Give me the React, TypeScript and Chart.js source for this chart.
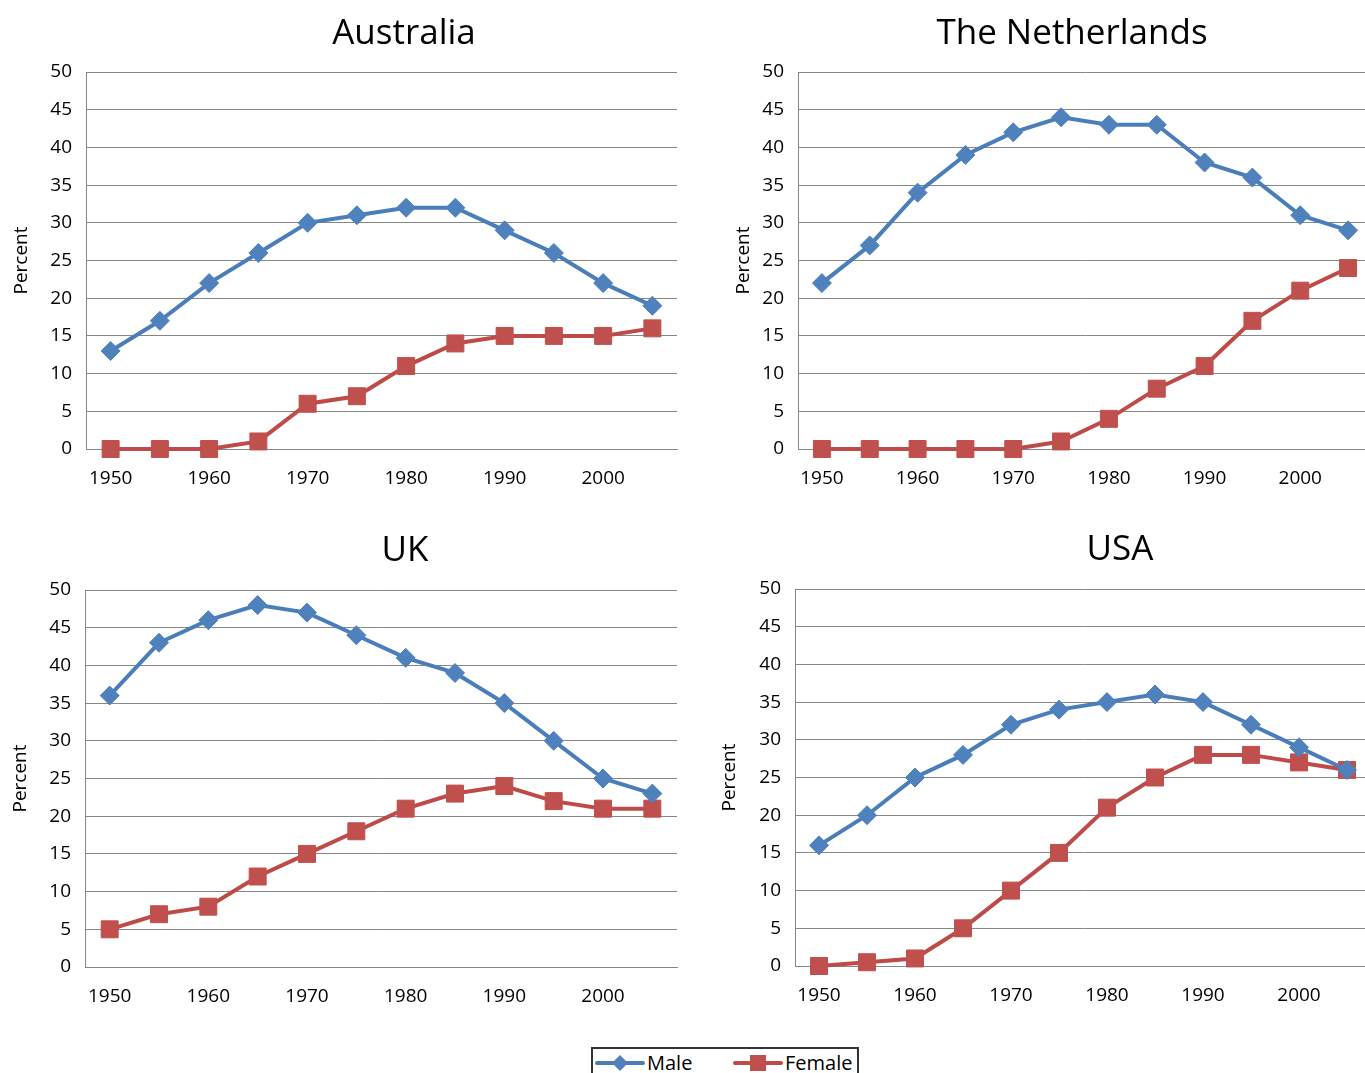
import React, { useEffect, useRef } from 'react';
import { Chart, registerables } from 'chart.js';

Chart.register(...registerables);

// ---------- data ----------
const years = ['1950', '1955', '1960', '1965', '1970', '1975', '1980', '1985', '1990', '1995', '2000', '2005'];
const xTickLabels = ['1950', '', '1960', '', '1970', '', '1980', '', '1990', '', '2000', ''];
const yMin = 0;
const yMax = 50;
const yStep = 5;
const seriesNames = ['Male', 'Female'];
const axisTitle = 'Percent';

const australiaMale = [13, 17, 22, 26, 30, 31, 32, 32, 29, 26, 22, 19];
const australiaFemale = [0, 0, 0, 1, 6, 7, 11, 14, 15, 15, 15, 16];
const netherlandsMale = [22, 27, 34, 39, 42, 44, 43, 43, 38, 36, 31, 29];
const netherlandsFemale = [0, 0, 0, 0, 0, 1, 4, 8, 11, 17, 21, 24];
const ukMale = [36, 43, 46, 48, 47, 44, 41, 39, 35, 30, 25, 23];
const ukFemale = [5, 7, 8, 12, 15, 18, 21, 23, 24, 22, 21, 21];
const usaMale = [16, 20, 25, 28, 32, 34, 35, 36, 35, 32, 29, 26];
const usaFemale = [0, 0.5, 1, 5, 10, 15, 21, 25, 28, 28, 27, 26];

// ---------- styles ----------
const FONT = "'Open Sans', sans-serif";
const TITLE_SIZE = 35;
const TICK_SIZE = 19;
const AXIS_TITLE_SIZE = 19;
const BLUE_LINE = '#4A7EBB';
const BLUE_MARK = '#4F81BD';
const RED_LINE = '#BE4B48';
const RED_MARK = '#C0504D';
const GRID = '#878787';
const X_AXIS_H = 44;

type PanelLayout = {
  left: number; top: number; width: number; height: number;
  plotL: number; plotR: number; plotT: number; plotB: number;
  titleX: number; titleY: number; percentX: number;
};

const panels: { title: string; male: number[]; female: number[]; layout: PanelLayout }[] = [
  {
    title: 'Australia', male: australiaMale, female: australiaFemale,
    layout: { left: 0, top: 0, width: 700, height: 510, plotL: 86, plotR: 677, plotT: 72, plotB: 449, titleX: 404, titleY: 34, percentX: 22 },
  },
  {
    title: 'The Netherlands', male: netherlandsMale, female: netherlandsFemale,
    layout: { left: 700, top: 0, width: 700, height: 510, plotL: 798, plotR: 1372, plotT: 72, plotB: 449, titleX: 1072, titleY: 34, percentX: 744 },
  },
  {
    title: 'UK', male: ukMale, female: ukFemale,
    layout: { left: 0, top: 510, width: 700, height: 530, plotL: 85, plotR: 677, plotT: 590, plotB: 967, titleX: 405, titleY: 551, percentX: 21 },
  },
  {
    title: 'USA', male: usaMale, female: usaFemale,
    layout: { left: 700, top: 510, width: 700, height: 530, plotL: 795, plotR: 1371, plotT: 589, plotB: 966, titleX: 1120, titleY: 550, percentX: 730 },
  },
];

const titleShift = {
  id: 'titleShift',
  afterLayout(chart: any, _args: any, opts: any) {
    const tb = chart.titleBlock;
    if (tb && opts && typeof opts.center === 'number') {
      const half = 320;
      tb.left = opts.center - half;
      tb.right = opts.center + half;
      tb.width = half * 2;
    }
  },
};

function Panel({ title, male, female, layout }: { title: string; male: number[]; female: number[]; layout: PanelLayout }) {
  const ref = useRef<HTMLCanvasElement>(null);
  useEffect(() => {
    const p = layout;
    const lh = TITLE_SIZE * 1.2;
    const padTop = p.titleY - p.top - lh / 2;
    const padBottom = p.plotT - p.top - padTop - lh;
    const axLh = AXIS_TITLE_SIZE * 1.2;
    const chart = new Chart(ref.current as HTMLCanvasElement, {
      type: 'line',
      data: {
        labels: years,
        datasets: [
          {
            label: seriesNames[0], data: male,
            borderColor: BLUE_LINE, backgroundColor: BLUE_MARK, borderWidth: 4,
            pointStyle: 'rectRot', pointRadius: 9.5, pointHoverRadius: 9.5,
            pointBackgroundColor: BLUE_MARK, pointBorderColor: BLUE_MARK, pointBorderWidth: 1,
            tension: 0, clip: false as any,
          },
          {
            label: seriesNames[1], data: female,
            borderColor: RED_LINE, backgroundColor: RED_MARK, borderWidth: 4,
            pointStyle: 'rect', pointRadius: 12, pointHoverRadius: 12,
            pointBackgroundColor: RED_MARK, pointBorderColor: RED_MARK, pointBorderWidth: 1,
            tension: 0, clip: false as any,
          },
        ],
      },
      options: {
        responsive: false,
        animation: false,
        devicePixelRatio: 1,
        events: [],
        layout: {
          padding: {
            left: 0,
            top: 0,
            right: p.left + p.width - p.plotR,
            bottom: p.top + p.height - p.plotB - X_AXIS_H,
          },
        },
        plugins: {
          legend: { display: false },
          tooltip: { enabled: false },
          title: {
            display: true,
            text: title,
            color: '#000',
            font: { family: FONT, size: TITLE_SIZE, weight: 'normal' as any, lineHeight: 1.2 },
            padding: { top: padTop, bottom: padBottom },
          },
          titleShift: { center: p.titleX - p.left },
        } as any,
        scales: {
          x: {
            type: 'category',
            offset: true,
            grid: { display: false, drawTicks: false },
            border: { display: true, color: GRID, width: 1 },
            ticks: {
              autoSkip: false, maxRotation: 0, minRotation: 0, padding: 18,
              color: '#000', font: { family: FONT, size: TICK_SIZE },
              callback: (_v: any, i: number) => xTickLabels[i],
            },
            afterFit: (s: any) => { s.height = X_AXIS_H; },
          },
          y: {
            min: yMin, max: yMax,
            ticks: { stepSize: yStep, padding: 14, color: '#000', font: { family: FONT, size: TICK_SIZE } },
            grid: { color: GRID, lineWidth: 1, drawTicks: false },
            border: { display: true, color: GRID, width: 1 },
            title: {
              display: true, text: axisTitle, color: '#000',
              font: { family: FONT, size: AXIS_TITLE_SIZE, lineHeight: 1.2 },
              padding: { top: p.percentX - p.left - axLh / 2, bottom: 0 },
            },
            afterFit: (s: any) => { s.width = p.plotL - p.left; },
          },
        },
      },
      plugins: [titleShift as any],
    });
    return () => chart.destroy();
  }, []);
  const p = layout;
  return (
    <canvas
      ref={ref}
      width={p.width}
      height={p.height}
      style={{ position: 'absolute', left: p.left, top: p.top, width: p.width, height: p.height }}
    />
  );
}

function Legend() {
  const textStyle: React.CSSProperties = {
    position: 'absolute', top: 1049, height: 28, lineHeight: '28px',
    fontFamily: FONT, fontSize: 20, color: '#000', whiteSpace: 'nowrap',
  };
  return (
    <>
      <div style={{ position: 'absolute', left: 591, top: 1047, width: 268, height: 40, border: '2px solid #333', boxSizing: 'border-box' }} />
      <svg style={{ position: 'absolute', left: 595, top: 1053 }} width={52} height={22}>
        <line x1={2} y1={10} x2={48} y2={10} stroke={BLUE_LINE} strokeWidth={4} strokeLinecap="round" />
        <polygon points="25,2 33,10 25,18 17,10" fill={BLUE_MARK} />
      </svg>
      <span style={{ ...textStyle, left: 647 }}>{seriesNames[0]}</span>
      <svg style={{ position: 'absolute', left: 733, top: 1053 }} width={52} height={22}>
        <line x1={2} y1={10} x2={48} y2={10} stroke={RED_LINE} strokeWidth={4} strokeLinecap="round" />
        <rect x={17} y={2} width={16} height={16} fill={RED_MARK} />
      </svg>
      <span style={{ ...textStyle, left: 785 }}>{seriesNames[1]}</span>
    </>
  );
}

export default function App() {
  return (
    <div style={{ position: 'fixed', left: 0, top: 0, width: 1365, height: 1073, overflow: 'hidden', background: '#fff' }}>
      {panels.map((pn) => (
        <Panel key={pn.title} title={pn.title} male={pn.male} female={pn.female} layout={pn.layout} />
      ))}
      <Legend />
    </div>
  );
}
